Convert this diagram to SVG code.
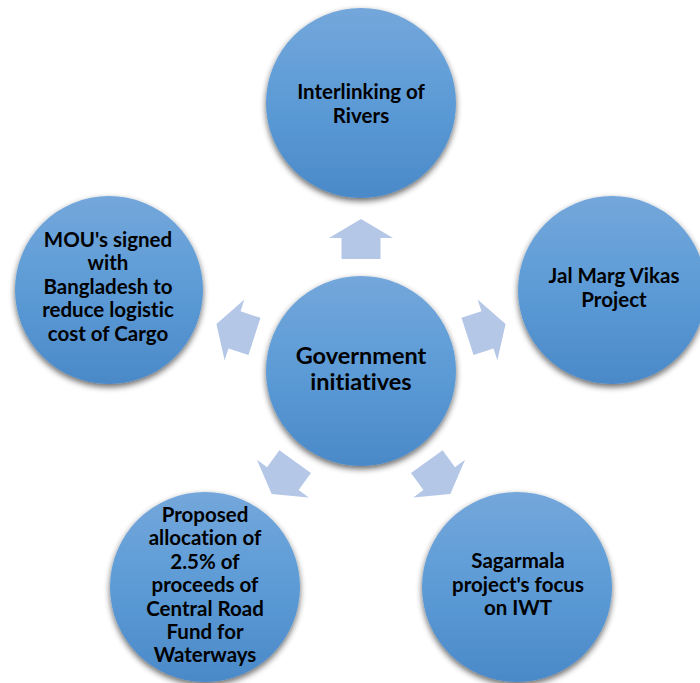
<svg xmlns="http://www.w3.org/2000/svg" width="700" height="683" viewBox="0 0 700 683">
  <defs>
    <linearGradient id="ballFill" x1="0" y1="0" x2="0" y2="1">
      <stop offset="0" stop-color="#74A7DB"/>
      <stop offset="0.5" stop-color="#5C9BD6"/>
      <stop offset="1" stop-color="#4B89C8"/>
    </linearGradient>
    <filter id="shade" x="-20%" y="-20%" width="140%" height="145%">
      <feGaussianBlur in="SourceAlpha" stdDeviation="3"/>
      <feOffset dx="0" dy="3" result="blur"/>
      <feComponentTransfer in="blur" result="sh">
        <feFuncA type="linear" slope="0.6"/>
      </feComponentTransfer>
      <feMerge>
        <feMergeNode in="sh"/>
        <feMergeNode in="SourceGraphic"/>
      </feMerge>
    </filter>
    <!-- block arrow pointing up, measured from the hub centre -->
    <polygon id="blockArrow" points="0,-152 32,-133 19.5,-133 19.5,-112 -19.5,-112 -19.5,-133 -32,-133"/>
  </defs>
  <style>
    .ball { fill: url(#ballFill); filter: url(#shade); }
    .arrow { fill: #B4C7E7; }
    .label { font-family: Lato, "Liberation Sans", sans-serif; font-weight: bold; font-size: 20.5px; fill: #000; text-anchor: middle; font-variant-ligatures: none; }
    .hub { font-size: 23.5px; }
  </style>

  <rect width="700" height="683" fill="#fff"/>

  <g id="connectors" class="arrow" transform="translate(361,371)">
    <use href="#blockArrow"/>
    <use href="#blockArrow" transform="rotate(72)"/>
    <use href="#blockArrow" transform="rotate(144)"/>
    <use href="#blockArrow" transform="rotate(216)"/>
    <use href="#blockArrow" transform="rotate(288)"/>
  </g>

  <g id="hub">
    <circle class="ball" cx="361" cy="371" r="95"/>
    <text class="label hub" x="361" y="364">Government</text>
    <text class="label hub" x="361" y="390">initiatives</text>
  </g>

  <g id="rivers">
    <circle class="ball" cx="361" cy="103" r="95"/>
    <text class="label" x="361" y="99">Interlinking of</text>
    <text class="label" x="361" y="123">Rivers</text>
  </g>

  <g id="jalMarg">
    <circle class="ball" cx="612" cy="290" r="94"/>
    <text class="label" x="614" y="283">Jal Marg Vikas</text>
    <text class="label" x="614" y="307">Project</text>
  </g>

  <g id="sagarmala">
    <circle class="ball" cx="517" cy="587" r="95"/>
    <text class="label" x="518" y="568">Sagarmala</text>
    <text class="label" x="518" y="592">project's focus</text>
    <text class="label" x="518" y="615">on IWT</text>
  </g>

  <g id="roadFund">
    <circle class="ball" cx="205" cy="587" r="95"/>
    <text class="label" x="205" y="522">Proposed</text>
    <text class="label" x="205" y="545">allocation of</text>
    <text class="label" x="205" y="569">2.5% of</text>
    <text class="label" x="205" y="592">proceeds of</text>
    <text class="label" x="205" y="616">Central Road</text>
    <text class="label" x="205" y="639">Fund for</text>
    <text class="label" x="205" y="662">Waterways</text>
  </g>

  <g id="bangladesh">
    <circle class="ball" cx="109" cy="290" r="94"/>
    <text class="label" x="108" y="247">MOU's signed</text>
    <text class="label" x="108" y="270">with</text>
    <text class="label" x="108" y="294">Bangladesh to</text>
    <text class="label" x="108" y="317">reduce logistic</text>
    <text class="label" x="108" y="341">cost of Cargo</text>
  </g>
</svg>
